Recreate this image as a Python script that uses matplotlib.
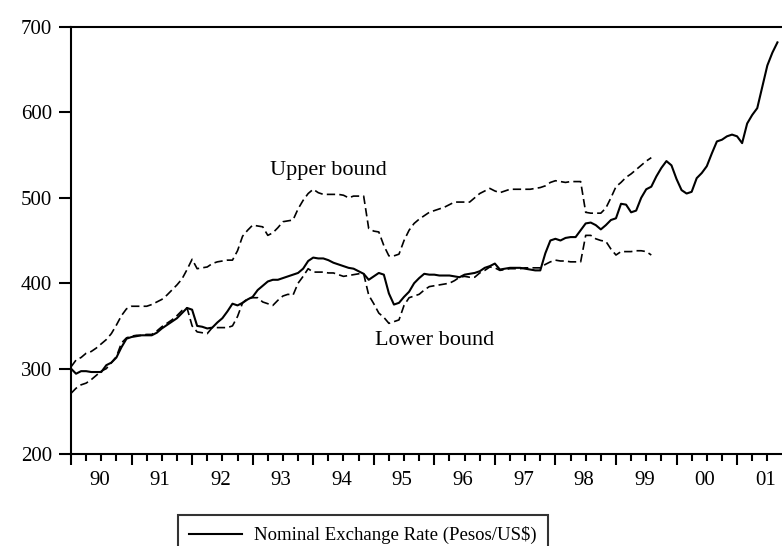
import numpy as np
import matplotlib
matplotlib.use("Agg")
import matplotlib.pyplot as plt
from matplotlib.ticker import FixedLocator, NullFormatter
import matplotlib.transforms as mtransforms

plt.rcParams['font.family'] = ['Liberation Serif', 'DejaVu Serif']

# monthly data, Jan 1990 onwards
rate = [
    300, 294, 297, 297, 296, 296, 296, 304, 307, 313, 325, 335,   # 1990
    337, 338, 339, 339, 339, 342, 347, 351, 355, 359, 365, 371,   # 1991
    369, 350, 349, 347, 348, 354, 359, 367, 376, 374, 377, 381,   # 1992
    384, 392, 397, 402, 404, 404, 406, 408, 410, 412, 417, 426,   # 1993
    430, 429, 429, 427, 424, 422, 420, 418, 417, 414, 411, 404,   # 1994
    408, 412, 410, 388, 375, 377, 384, 390, 400, 406, 411, 410,   # 1995
    410, 409, 409, 409, 408, 407, 410, 411, 412, 414, 418, 420,   # 1996
    423, 416, 417, 418, 418, 418, 417, 416, 415, 415, 435, 450,   # 1997
    452, 450, 453, 454, 454, 462, 470, 471, 468, 463, 468, 474,   # 1998
    476, 493, 492, 483, 485, 500, 510, 513, 525, 535, 543, 538,   # 1999
    522, 509, 505, 507, 523, 529, 537, 552, 566, 568, 572, 574,   # 2000
    572, 564, 587, 597, 605, 630, 655, 670, 682,                  # 2001
]

upper = [
    302, 310, 313, 318, 320, 324, 329, 334, 341, 351, 362, 370,
    373, 373, 373, 373, 375, 378, 381, 386, 392, 398, 405, 416,
    428, 417, 418, 419, 423, 425, 426, 427, 427, 438, 455, 462,
    468, 467, 466, 456, 459, 465, 472, 473, 474, 487, 497, 505,
    510, 506, 504, 504, 504, 504, 503, 500, 502, 502, 502, 464,
    461, 460, 444, 432, 432, 434, 450, 462, 470, 475, 479, 483,
    485, 487, 489, 492, 495, 495, 495, 495, 500, 505, 508, 511,
    508, 506, 508, 510, 510, 510, 510, 510, 511, 512, 514, 518,
    520, 519, 518, 519, 519, 519, 483, 482, 482, 482, 488, 500,
    513, 518, 524, 528, 533, 538, 543, 547,
]

lower = [
    271, 277, 281, 283, 287, 292, 297, 300, 307, 314, 330, 336,
    338, 339, 339, 340, 340, 344, 349, 353, 357, 362, 368, 371,
    350, 343, 342, 341, 348, 348, 348, 348, 350, 361, 377, 382,
    383, 383, 378, 376, 374, 380, 385, 387, 386, 400, 408, 417,
    413, 413, 413, 412, 412, 410, 408, 409, 410, 411, 411, 386,
    376, 365, 360, 353, 355, 357, 374, 383, 385, 387, 392, 396,
    397, 398, 399, 400, 403, 407, 408, 407, 407, 412, 415, 419,
    418, 415, 416, 417, 417, 417, 418, 418, 418, 418, 422, 425,
    427, 426, 426, 425, 425, 425, 456, 456, 452, 450, 449, 440,
    433, 437, 437, 437, 438, 438, 437, 433,
]

year_labels = ['90', '91', '92', '93', '94', '95', '96', '97', '98', '99', '00', '01']

t_rate = 1990 + np.arange(len(rate)) / 12
t_band = 1990 + np.arange(len(upper)) / 12

fig = plt.figure(figsize=(7.82, 5.46), dpi=100)
ax = fig.add_axes([71 / 782, 1 - 454 / 546, 1 - 71 / 782, (454 - 27) / 546])

ax.plot(t_rate, rate, color='black', lw=1.5, label='Nominal Exchange Rate (Pesos/US$)')
ax.plot(t_band, upper, color='black', lw=1.2, dashes=(5, 2.5))
ax.plot(t_band, lower, color='black', lw=1.2, dashes=(5, 2.5))

ax.set_xlim(1990, 2001.742)
ax.set_ylim(200, 700)

ax.spines['right'].set_visible(False)
for s in ['left', 'bottom', 'top']:
    ax.spines[s].set_linewidth(1.5)

years = np.arange(1990, 2002)
ax.xaxis.set_major_locator(FixedLocator(years))
ax.xaxis.set_minor_locator(FixedLocator([y + q / 4 for y in years for q in (1, 2, 3)]))
ax.xaxis.set_major_formatter(NullFormatter())
ax.tick_params(axis='x', which='major', direction='out', length=8, width=1.5)
ax.tick_params(axis='x', which='minor', direction='out', length=5, width=1.5)

# year labels sit between the year ticks
trans = mtransforms.blended_transform_factory(ax.transData, ax.transAxes)
for y, lab in zip(years, year_labels):
    ax.text(y + 0.47, -0.061, lab, transform=trans, ha='center', va='center', fontsize=15)

ax.set_yticks([200, 300, 400, 500, 600, 700])
ax.tick_params(axis='y', direction='out', length=8.5, width=1.5, pad=5, labelsize=15)

ax.text(1994.25, 532, 'Upper bound', fontsize=16, ha='center', va='center')
ax.text(1996.0, 333, 'Lower bound', fontsize=16, ha='center', va='center')

leg = ax.legend(loc='upper left', bbox_to_anchor=(178 / 782, 1 - 515 / 546),
                bbox_transform=fig.transFigure, fontsize=13.5, frameon=True,
                fancybox=False, handlelength=2.8, handletextpad=0.65,
                borderpad=0.6, borderaxespad=0)
leg.get_frame().set_edgecolor('black')
leg.get_frame().set_linewidth(1.5)

fig.savefig('out.png', dpi=100)
